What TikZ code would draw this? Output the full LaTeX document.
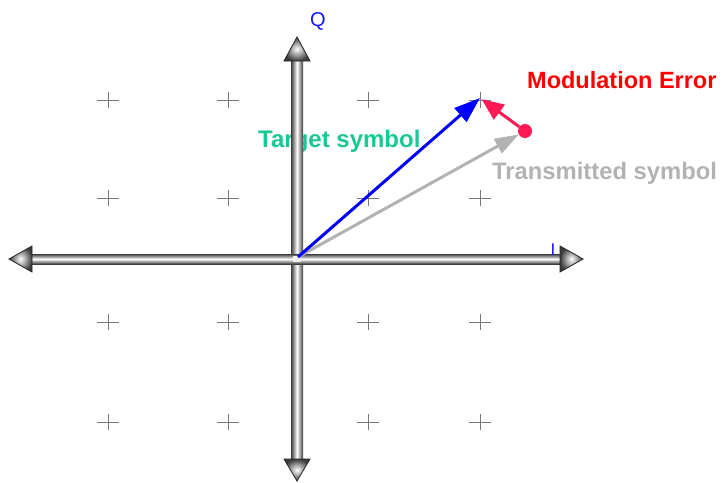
\documentclass[tikz,border=0pt]{standalone}
\usepackage{fontspec}
\setmainfont{Liberation Sans}
\usetikzlibrary{arrows.meta}
\definecolor{tgtteal}{RGB}{26,200,150}
\definecolor{errred}{RGB}{255,25,85}
\definecolor{txgray}{RGB}{178,178,178}
\definecolor{qblue}{RGB}{20,20,255}
\definecolor{axdark}{RGB}{60,60,60}
\definecolor{gridgray}{RGB}{120,120,120}
\begin{document}
\begin{tikzpicture}[x=1pt,y=-1pt,
  gridmark/.style={draw=gridgray, line width=1pt},
  bigtext/.style={font=\fontsize{24}{24}\selectfont\bfseries, inner sep=0pt, anchor=base west},
  axislabel/.style={text=qblue, inner sep=0pt, anchor=base},
  vecline/.style={line width=3pt},
  axhead/.style={inner color=white, outer color=axdark, draw=axdark!60!black, line width=0.8pt}]
\useasboundingbox (0,0) rectangle (728,482);
% grid marks
\foreach \gx in {108,228,368,480}{
  \foreach \gy in {100,198,322,422}{
    \draw[gridmark] (\gx-11,\gy) -- (\gx+11,\gy) (\gx,\gy-8) -- (\gx,\gy+8);
  }
}
% labels under the axes
\node[bigtext, text=tgtteal] (tgtlabel) at (258,147) {Target symbol};
\node[bigtext, text=txgray, font=\fontsize{23.8}{24}\selectfont\bfseries] (txlabel) at (492,179) {Transmitted symbol};
\node[bigtext, text=red, font=\fontsize{23.5}{24}\selectfont\bfseries] (errlabel) at (527,88) {Modulation Error};
% axes
\shade[left color=axdark, right color=axdark, middle color=white] (291,61) rectangle (303,459);
\shade[top color=axdark, bottom color=axdark, middle color=white] (32,254) rectangle (560,264);
\fill[white!90!gray] (293,256) rectangle (301,262);
\shadedraw[axhead] (297,37) -- (284,61) -- (310,61) -- cycle;
\shadedraw[axhead] (297,481) -- (284,459) -- (310,459) -- cycle;
\shadedraw[axhead] (9,259) -- (32,246) -- (32,272) -- cycle;
\shadedraw[axhead] (583,259) -- (560,246) -- (560,272) -- cycle;
\node[axislabel, font=\fontsize{20}{20}\selectfont] (qlabel) at (318,26) {Q};
\node[axislabel, font=\fontsize{17}{17}\selectfont] (ilabel) at (553,255) {I};
% vectors
\coordinate (O) at (298,257);
\coordinate (T) at (480,98);
\node[circle, fill=errred, inner sep=0pt, minimum size=14pt] (X) at (525,131) {};
\draw[vecline, txgray, -{Triangle[length=24pt,width=16pt]}] (O) -- (X);
\draw[vecline, blue, -{Triangle[length=26pt,width=18pt]}] (O) -- (T);
\draw[vecline, errred, -{Triangle[length=22pt,width=18pt]}, shorten >=2pt] (X) -- (T);
\end{tikzpicture}
\end{document}
